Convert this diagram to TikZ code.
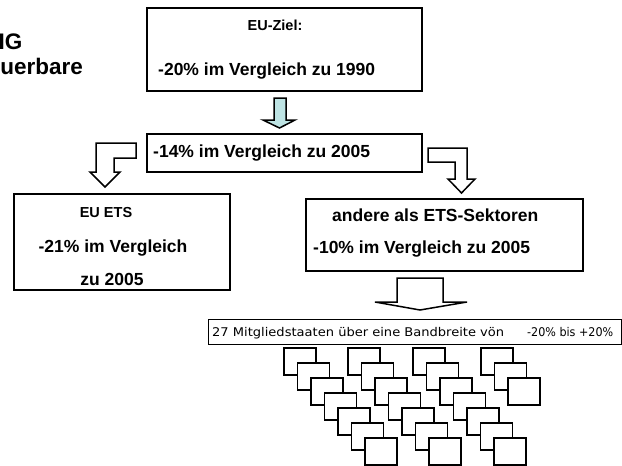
\documentclass[tikz,border=0pt]{standalone}
\usepackage{fontspec}
\setmainfont{Liberation Sans}
\newfontfamily\barfont{DejaVu Sans}
\definecolor{arrowcyan}{RGB}{190,228,228}
\begin{document}
\begin{tikzpicture}[x=1pt,y=-1pt,
  box/.style={draw=black, line width=1.6pt, fill=white, inner sep=0pt, anchor=north west},
  sq/.style={draw=black, line width=1.6pt, fill=white, inner sep=0pt, anchor=north west, minimum width=32pt, minimum height=27pt},
  bigtxt/.style={inner sep=0pt, font=\bfseries\fontsize{17.5}{20}\selectfont},
  smalltxt/.style={inner sep=0pt, font=\bfseries\fontsize{14.5}{17}\selectfont},
  headtxt/.style={inner sep=0pt, font=\bfseries\fontsize{22.5}{26}\selectfont},
  bartxt/.style={inner sep=0pt, font=\barfont\fontsize{12}{14}\selectfont},
  blockarrow/.style={draw=black, line width=1.5pt, fill=white, line join=miter},
]
\useasboundingbox (0,0) rectangle (622,466);

% cut-off heading at left
\node[headtxt, anchor=base east] (h1) at (22.5,49) {IG};
\node[headtxt, anchor=base east] (h2) at (83,74) {uerbare};

% top box
\node[box, minimum width=275pt, minimum height=83pt] (ziel) at (146,7) {};
\node[smalltxt, anchor=base] (zielA) at (275,30) {EU-Ziel:};
\node[bigtxt, anchor=base west] (zielB) at (158,75) {-20\% im Vergleich zu 1990};

% cyan arrow
\draw[blockarrow, fill=arrowcyan] (274,98) -- (286,98) -- (286,120) -- (295,120) -- (279.5,128) -- (263,120) -- (274,120) -- cycle;

% middle box
\node[box, minimum width=275pt, minimum height=38pt] (mid) at (146,133) {};
\node[bigtxt, anchor=base west] (midA) at (153,157) {-14\% im Vergleich zu 2005};

% left bent arrow
\draw[blockarrow] (136,143) -- (96,143) -- (96,172) -- (90,172) -- (105,187) -- (120,172) -- (114,172) -- (114,158) -- (136,158) -- cycle;

% right bent arrow
\draw[blockarrow] (428,148) -- (467,148) -- (467,179) -- (475,179) -- (461.5,193) -- (448,179) -- (455,179) -- (455,162) -- (428,162) -- cycle;

% EU ETS box
\node[box, minimum width=216pt, minimum height=96pt] (ets) at (13,193) {};
\node[smalltxt, anchor=base] (etsA) at (106,217) {EU ETS};
\node[bigtxt, anchor=base] (etsB) at (113,252) {-21\% im Vergleich};
\node[bigtxt, anchor=base] (etsC) at (112,285) {zu 2005};

% non-ETS box
\node[box, minimum width=277pt, minimum height=72pt] (nets) at (305,198) {};
\node[bigtxt, anchor=base west] (netsA) at (332,221) {andere als ETS-Sektoren};
\node[bigtxt, anchor=base west] (netsB) at (313,253) {-10\% im Vergleich zu 2005};

% bottom arrow
\draw[blockarrow] (397,278) -- (443,278) -- (443,302) -- (467,302) -- (420,310) -- (375,302) -- (397,302) -- cycle;

% band bar
\node[box, line width=1.3pt, minimum width=413pt, minimum height=25pt] (band) at (208,319) {};
\node[bartxt, anchor=base west] (bandA) at (212,336) {\resizebox{292pt}{\height}{27 Mitgliedstaaten über eine Bandbreite vön}};
\node[bartxt, anchor=base west] (bandB) at (527,336) {\resizebox{86pt}{\height}{-20\% bis +20\%}};

% member state squares
\foreach \cx/\n [count=\c] in {283/7,347/7,412/7,480/3} {
  \foreach \i in {1,...,\n} {
    \node[sq] (s-\c-\i) at ({\cx+(\i-1)*13.5},{347+(\i-1)*15}) {};
  }
}
\end{tikzpicture}
\end{document}
